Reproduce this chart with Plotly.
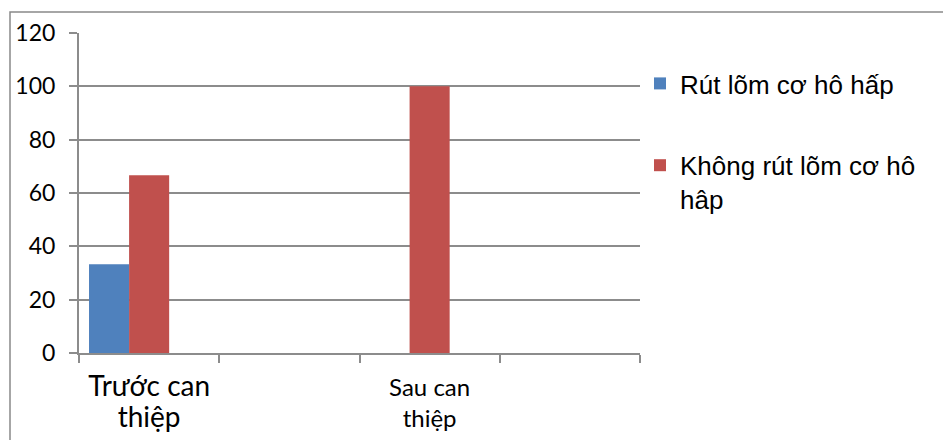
import plotly.graph_objects as go

categories = ["<span style='font-size:28px'>Trước can<br>thiệp</span>", " ",
              "<span style='font-size:24px'>Sau can<br>thiệp</span>", "  "]
series_names = ["Rút lõm cơ hô hấp", "Không rút lõm cơ hô<br>hâp", ""]
rut_lom = [33.3, None, None, None]
khong_rut_lom = [66.7, None, 100, None]
empty_series = [None, None, None, None]
y_ticks = [0, 20, 40, 60, 80, 100, 120]

colors = ["#4F81BD", "#C0504D", "#9BBB59"]

W, H = 943, 440
L, R, T, B = 79, 303, 33, 87
pw, ph = W - L - R, H - T - B

fig = go.Figure()
for name, vals, col, show in zip(series_names, [rut_lom, khong_rut_lom, empty_series], colors, [True, True, False]):
    fig.add_trace(go.Bar(x=categories, y=vals, name=name, marker=dict(color=col, line=dict(width=0)),
                         showlegend=show, legendgroup=name or "empty"))

def px_x(x):
    return (x - L) / pw

def px_y(y):
    return (H - B - y) / ph

fig.add_shape(type="rect", xref="paper", yref="paper",
              x0=px_x(10), x1=px_x(1000), y0=px_y(500), y1=px_y(12),
              line=dict(color="#898989", width=1.5), fillcolor="rgba(0,0,0,0)", layer="below")

fig.update_layout(
    width=W, height=H,
    margin=dict(l=L, r=R, t=T, b=B),
    paper_bgcolor="white", plot_bgcolor="white",
    barmode="group", bargap=1/7, bargroupgap=0,
    font=dict(family="Lato, Open Sans, sans-serif", color="#000000"),
    xaxis=dict(
        type="category", tickson="boundaries", ticks="outside", ticklen=8, tickwidth=2,
        tickcolor="#8c8c8c", showgrid=False, showline=True, linecolor="#8c8c8c", linewidth=2,
        tickfont=dict(size=24, family="Lato, sans-serif"), range=[-0.5, 3.5],
        ticklabelstandoff=12, automargin=False,
    ),
    yaxis=dict(
        range=[0, 120], tickvals=y_ticks, ticks="outside", ticklen=8, tickwidth=2,
        tickcolor="#8c8c8c", showgrid=True, gridcolor="#8c8c8c", gridwidth=2,
        showline=True, linecolor="#8c8c8c", linewidth=2, zeroline=False,
        tickfont=dict(size=23, family="Lato, sans-serif"), ticklabelstandoff=9,
        automargin=False,
    ),
    legend=dict(
        x=(640 - L) / pw, y=px_y(60), xanchor="left", yanchor="top",
        font=dict(family="Liberation Sans, Arial, sans-serif", size=26),
        valign="top", tracegroupgap=45, itemwidth=30, bgcolor="rgba(0,0,0,0)",
    ),
)

fig.write_html("out.html")
